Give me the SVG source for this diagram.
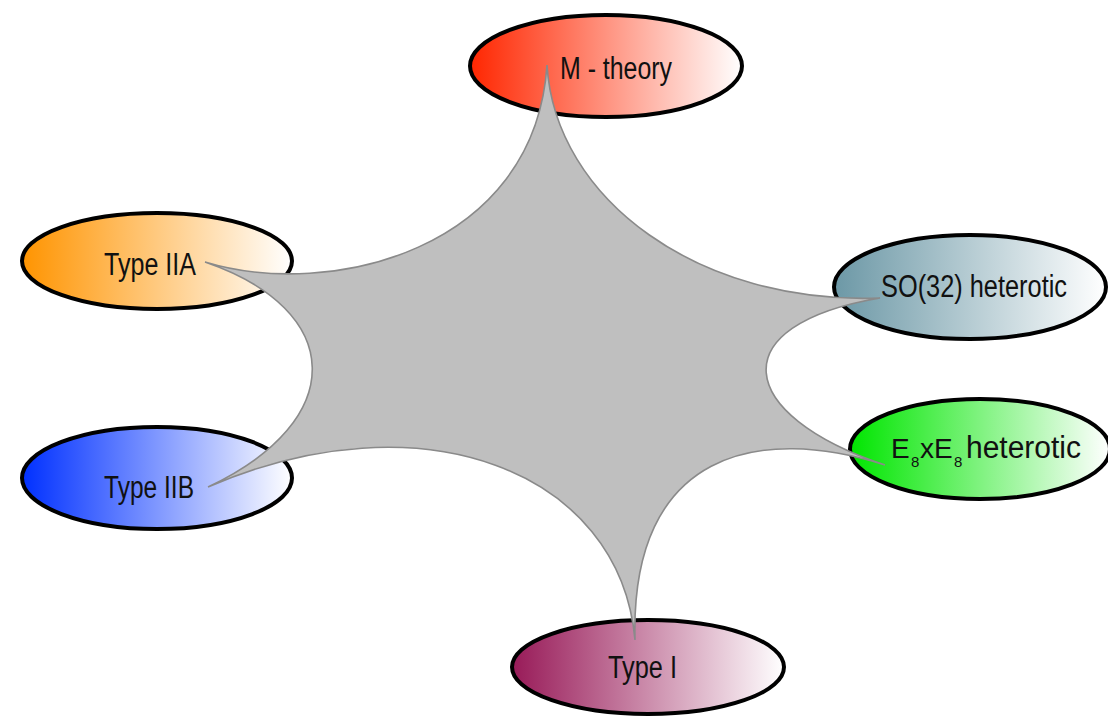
<svg xmlns="http://www.w3.org/2000/svg" width="1108" height="717" viewBox="0 0 1108 717">
  <style>
    .node ellipse { stroke: #000; stroke-width: 4; }
    .lbl { font-family: "Liberation Sans", Arial, sans-serif; font-size: 31px; fill: #111; }
    .sub { font-size: 15px; }
    .ch { font-size: 28px; }
    .star { fill: #bfbfbf; stroke: #8a8a8a; stroke-width: 1.6; stroke-linejoin: miter; }
  </style>
  <defs>
    <linearGradient id="gM" x1="0" y1="0" x2="1" y2="0"><stop offset="0" stop-color="#ff2600"/><stop offset="1" stop-color="#ffffff"/></linearGradient>
    <linearGradient id="gIIA" x1="0" y1="0" x2="1" y2="0"><stop offset="0" stop-color="#ff9400"/><stop offset="1" stop-color="#ffffff"/></linearGradient>
    <linearGradient id="gSO" x1="0" y1="0" x2="1" y2="0"><stop offset="0" stop-color="#6c98a6"/><stop offset="1" stop-color="#ffffff"/></linearGradient>
    <linearGradient id="gE8" x1="0" y1="0" x2="1" y2="0"><stop offset="0" stop-color="#00e600"/><stop offset="1" stop-color="#ffffff"/></linearGradient>
    <linearGradient id="gIIB" x1="0" y1="0" x2="1" y2="0"><stop offset="0" stop-color="#0030ff"/><stop offset="1" stop-color="#ffffff"/></linearGradient>
    <linearGradient id="gI" x1="0" y1="0" x2="1" y2="0"><stop offset="0" stop-color="#981a58"/><stop offset="1" stop-color="#ffffff"/></linearGradient>
  </defs>
  <rect width="1108" height="717" fill="#ffffff"/>

  <g id="node-mtheory" class="node">
    <ellipse cx="606" cy="66" rx="136" ry="51" fill="url(#gM)"/>
  </g>
  <g id="node-typeIIA" class="node">
    <ellipse cx="157" cy="261" rx="135" ry="48" fill="url(#gIIA)"/>
  </g>
  <g id="node-so32" class="node">
    <ellipse cx="970" cy="287" rx="136" ry="52" fill="url(#gSO)"/>
  </g>
  <g id="node-e8" class="node">
    <ellipse cx="980" cy="449" rx="130" ry="50" fill="url(#gE8)"/>
  </g>
  <g id="node-typeIIB" class="node">
    <ellipse cx="157" cy="478" rx="135" ry="51" fill="url(#gIIB)"/>
  </g>
  <g id="node-typeI" class="node">
    <ellipse cx="648" cy="667" rx="136" ry="47" fill="url(#gI)"/>
  </g>

  <g id="connectors">
    <path class="star" d="M547,65 C555,200 700,305 880,298 C720,325 735,415 885,465 C760,425 630,450 635,640 C620,470 420,395 208,487 C350,420 345,310 205,262 C330,300 535,250 547,65 Z"/>
  </g>

  <g id="labels">
    <text class="lbl" x="560" y="79" textLength="112" lengthAdjust="spacingAndGlyphs">M - theory</text>
    <text class="lbl" x="104" y="275" textLength="92" lengthAdjust="spacingAndGlyphs">Type IIA</text>
    <text class="lbl" x="881" y="297" textLength="186" lengthAdjust="spacingAndGlyphs">SO(32) heterotic</text>
    <text class="lbl" y="458"><tspan class="ch" x="891">E</tspan><tspan class="sub" x="911" y="467">8</tspan><tspan class="ch" x="920" y="458">x</tspan><tspan class="ch" x="934">E</tspan><tspan class="sub" x="954" y="467">8</tspan><tspan x="966" y="458" textLength="115" lengthAdjust="spacingAndGlyphs">heterotic</tspan></text>
    <text class="lbl" x="104" y="498" textLength="90" lengthAdjust="spacingAndGlyphs">Type IIB</text>
    <text class="lbl" x="608" y="678" textLength="69" lengthAdjust="spacingAndGlyphs">Type I</text>
  </g>
</svg>
